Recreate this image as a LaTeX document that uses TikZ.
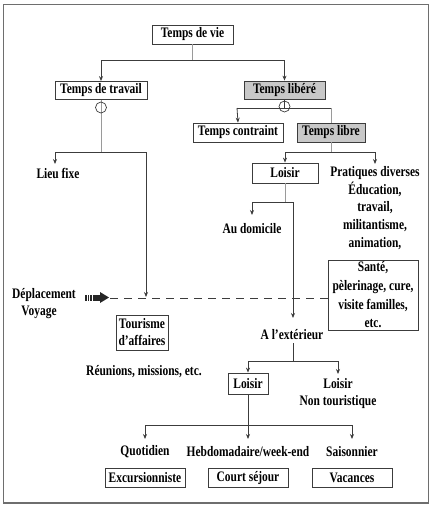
\documentclass[tikz,border=0pt]{standalone}
\usepackage{fontspec}
\setmainfont{Liberation Serif}[FakeStretch=0.79]
\usetikzlibrary{arrows.meta}
\definecolor{linegray}{HTML}{3C3C3C}
\definecolor{lightline}{HTML}{9A9A9A}
\definecolor{boxfill}{HTML}{C8C8C8}
\definecolor{framegray}{HTML}{6E6E6E}
\begin{document}
\begin{tikzpicture}[x=1pt,y=-1pt,
  every node/.style={font=\fontsize{14.5}{17.7}\selectfont\bfseries, inner sep=0pt, text=black},
  bx/.style={draw=linegray, line width=0.8pt, minimum height=19pt},
  gbx/.style={bx, fill=boxfill},
  conn/.style={draw=linegray, line width=0.8pt},
  lconn/.style={draw=lightline, line width=0.8pt},
  arr/.style={conn, -{Stealth[length=5pt,width=4pt]}},
  ring/.style={draw=linegray, line width=0.7pt, circle, minimum size=11pt},
  dash line/.style={draw=linegray, line width=0.8pt, dash pattern=on 8pt off 6pt}]
\useasboundingbox (0,0) rectangle (431,512);
% frame
\draw[framegray, line width=0.8pt] (3,4) rectangle (428,503);
\draw[framegray, line width=2pt] (3,503) -- (428,503);

% boxes
\node[bx, minimum width=81pt] (vie) at (192.5,34.5) {Temps de vie};
\node[bx, minimum width=92pt, minimum height=18pt] (travail) at (101,90.5) {Temps de travail};
\node[gbx, minimum width=81pt, minimum height=18pt] (libere) at (284.5,90) {Temps libéré};
\node[bx, minimum width=90pt] (contraint) at (238,132.5) {Temps contraint};
\node[gbx, minimum width=68pt] (libre) at (331,132.5) {Temps libre};
\node[bx, minimum width=66pt, minimum height=20pt] (loisirA) at (285,173) {Loisir};
\node[bx, minimum width=90pt, minimum height=70pt, align=center, font=\fontsize{14.5}{18.7}\selectfont\bfseries] (sante) at (373,295) {Santé,\\pèlerinage, cure,\\visite familles,\\etc.};
\node[bx, minimum width=52pt, minimum height=35pt, align=center, font=\fontsize{14.5}{17}\selectfont\bfseries] (affaires) at (142,332.5) {Tourisme\\d'affaires};
\node[bx, minimum width=40pt, minimum height=21pt] (loisirB) at (248,383.5) {Loisir};
\node[bx, minimum width=80pt] (excu) at (145,477.5) {Excursionniste};
\node[bx, minimum width=80pt] (court) at (248,477.5) {Court séjour};
\node[bx, minimum width=80pt] (vac) at (352,477.5) {Vacances};

% plain texts
\node (fixe) at (58,173) {Lieu fixe};
\node[align=center] (prat) at (375,208) {Pratiques diverses\\Éducation,\\travail,\\militantisme,\\animation,};
\node (domicile) at (252,229) {Au domicile};
\node (depl) at (44,295) {Déplacement};
\node (voyage) at (39,312) {Voyage};
\node (ext) at (292,335) {A l'extérieur};
\node (reunions) at (144,372) {Réunions, missions, etc.};
\node (loisirC) at (338,384) {Loisir};
\node (nontour) at (338,402) {Non touristique};
\node (quot) at (145,452) {Quotidien};
\node (hebdo) at (248,452) {Hebdomadaire/week-end};
\node (sais) at (352,452) {Saisonnier};

% coordinates
\coordinate (a1) at (192.5,60);
\coordinate (a2) at (101,60);
\coordinate (a3) at (284.5,60);
\coordinate (b1) at (101,152);
\coordinate (b2) at (55,152);
\coordinate (b3) at (146,152);
\coordinate (b4) at (55,164);
\coordinate (b5) at (146,297);
\coordinate (c1) at (284.5,108);
\coordinate (c2) at (237,108);
\coordinate (c3) at (331,108);
\coordinate (d1) at (331,152);
\coordinate (d2) at (285,152);
\coordinate (d3) at (375,152);
\coordinate (d4) at (375,164);
\coordinate (e1) at (285,202);
\coordinate (e2) at (252,202);
\coordinate (e3) at (293,202);
\coordinate (e4) at (252,215);
\coordinate (e5) at (293,318);
\coordinate (f0) at (110,298);
\coordinate (g0) at (293,343);
\coordinate (g1) at (293,361);
\coordinate (g2) at (248,361);
\coordinate (g3) at (338,361);
\coordinate (g4) at (338,374);
\coordinate (h1) at (248,425);
\coordinate (h2) at (145,425);
\coordinate (h3) at (352,425);
\coordinate (h4) at (145,439);
\coordinate (h5) at (248,439);
\coordinate (h6) at (352,439);

% connectors
\draw[lconn] (vie.south) -- (a1);
\draw[conn] (a2) -- (a3);
\draw[arr] (a2) -- (travail.north);
\draw[arr] (a3) -- (libere.north);

\draw[lconn] (travail.south) -- (b1);
\node[ring] (r1) at (101,107.5) {};
\draw[conn] (b2) -- (b3);
\draw[arr] (b2) -- (b4);
\draw[arr] (b3) -- (b5);

\draw[conn] (libere.south) -- (c1);
\node[ring] (r2) at (284.5,106.5) {};
\draw[conn] (c2) -- (c3);
\draw[arr] (c2) -- (contraint.north);
\draw[lconn] (c3) -- (libre.north);
\draw[lconn] (libre.south) -- (d1);
\draw[conn] (d2) -- (d3);
\draw[arr] (d2) -- (loisirA.north);
\draw[arr] (d3) -- (d4);

\draw[lconn] (loisirA.south) -- (e1);
\draw[conn] (e2) -- (e3);
\draw[arr] (e2) -- (e4);
\draw[arr] (e3) -- (e5);

\draw[dash line] (f0) -- (sante.west |- f0);

% thick arrow
\fill[black!85] (85,294.5) rectangle (86.6,300.5);
\fill[black!85] (87.6,294.5) rectangle (89.2,300.5);
\fill[black!85] (90.2,294.5) rectangle (91.8,300.5);
\fill[black!85] (92.6,294.5) rectangle (101,300.5);
\fill[black!85] (100,292) -- (109,297.5) -- (100,303) -- cycle;

\draw[conn] (g0) -- (g1);
\draw[conn] (g2) -- (g3);
\draw[arr] (g2) -- (loisirB.north);
\draw[arr] (g3) -- (g4);

\draw[conn] (loisirB.south) -- (h1);
\draw[conn] (h2) -- (h3);
\draw[arr] (h2) -- (h4);
\draw[arr] (h1) -- (h5);
\draw[arr] (h3) -- (h6);
\end{tikzpicture}
\end{document}
